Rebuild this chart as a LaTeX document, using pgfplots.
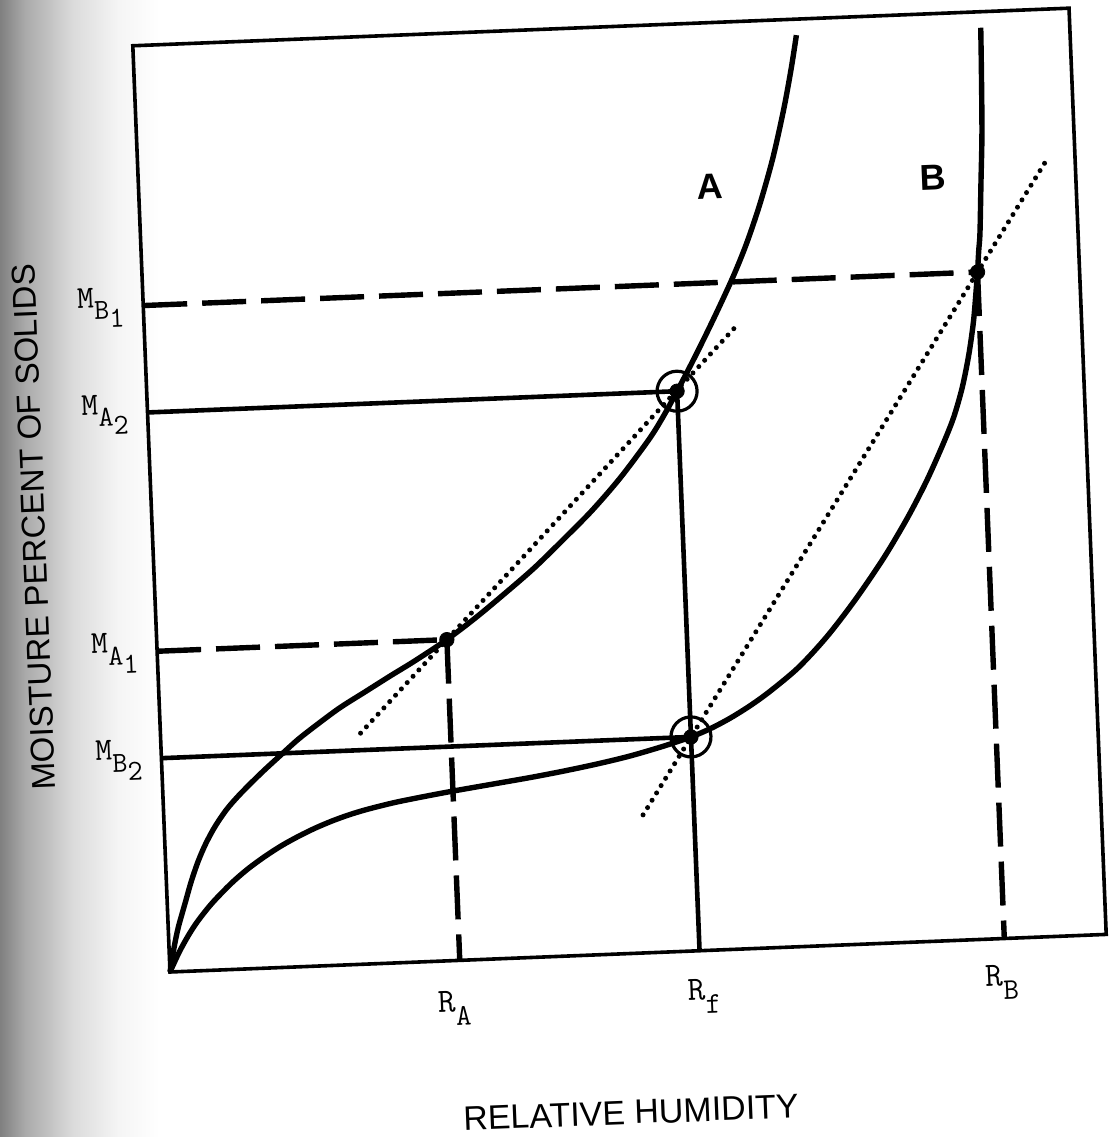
\documentclass[border=0pt]{standalone}
\usepackage{fontspec}
\setmainfont{Liberation Sans}
\usepackage{pgfplots}
\pgfplotsset{compat=1.18}

% typewriter face for the symbol labels, slightly emboldened
\newcommand\labfont{\ttfamily\addfontfeature{FakeBold=1.6}}
% M_{B_1}-style labels: letter, subscript, sub-subscript
\newcommand\msub[3]{{\labfont\fontsize{16bp}{16bp}\selectfont #1\raisebox{-6bp}{\fontsize{14.5bp}{14.5bp}\selectfont #2\raisebox{-4.5bp}{#3}}}}
% R_A-style labels
\newcommand\rsub[2]{{\labfont\fontsize{17bp}{17bp}\selectfont #1\raisebox{-7bp}{\fontsize{15bp}{15bp}\selectfont #2}}}

% grey page margin; the path box maps onto 25bp..75bp of the shading
\pgfdeclarehorizontalshading{margin}{100bp}{color(0bp)=(black!50); color(25bp)=(black!50); color(33bp)=(black!33); color(48bp)=(black!14); color(62bp)=(black!4); color(75bp)=(white); color(100bp)=(white)}

\begin{document}
\begin{tikzpicture}
\useasboundingbox (-85bp,-82.5bp) rectangle (470bp,486bp);
\shade[shading=margin] (-85bp,-82.5bp) rectangle (-5bp,486bp);
\begin{scope}[rotate=2.3, transform shape]
\begin{axis}[
  at={(0,0)}, anchor=south west,
  scale only axis, width=468.5bp, height=463.5bp,
  xmin=0, xmax=937, ymin=0, ymax=927,
  xtick=\empty, ytick=\empty,
  axis line style={line width=1.8bp},
  clip=false,
  curve/.style={line width=2.7bp, smooth, tension=0.5, line join=round},
  guide/.style={line width=2.3bp},
  dashedguide/.style={line width=2.7bp, dash pattern=on 22bp off 7.5bp},
  chord/.style={line width=2.5bp, line cap=round, dash pattern=on 0pt off 4.3bp},
]
% isotherm A
\addplot[curve] coordinates {
 (0,0) (5,24) (10,44) (17.8,68) (25,90) (32.8,110) (41,127) (50.8,143.5)
 (63,160) (75.2,173) (89,186) (103,198.5) (119,212) (137,227) (155,240)
 (180,257) (206,272) (232,287) (257,301) (290,321) (320,342) (350,365)
 (380,389) (410,416) (440,444) (470,476) (500,513) (515,535) (530,560)
 (550,595) (570,632) (590,671) (605,704) (620,743) (635,789) (648,838)
 (657,878) (663.5,911)};
% isotherm B
\addplot[curve] coordinates {
 (0,0) (10,19.5) (20,36) (30,50) (45,67.3) (65,86.3) (82,99.9) (100,112)
 (117,122) (134,130.5) (151,138) (168,144.4) (185,149.8) (201,154)
 (218,157.7) (235,161) (264,165.6) (292,169.7) (330,174.8) (368,179.9)
 (401,184.9) (435,190.7) (468,197.3) (502,205.8) (530,214) (550,221.6)
 (570,231.2) (590,242.6) (610,255.8) (640,278.9) (670,308.9) (700,344.9)
 (730,385.4) (755,424) (775,459) (792,493) (805,522) (815,552) (823,585)
 (829,618) (833,650) (835,667) (837,688) (839,706) (842,756) (845,806)
 (847,870) (848,911)};
% moisture / humidity guide lines
\addplot[dashedguide] coordinates {(0,667) (835,667)};
\addplot[dashedguide] coordinates {(835,667) (835,0)};
\addplot[dashedguide] coordinates {(0,321) (290,321)};
\addplot[dashedguide] coordinates {(290,321) (290,0)};
\addplot[guide] coordinates {(0,560) (530,560)};
\addplot[guide] coordinates {(530,560) (530,0)};
\addplot[guide] coordinates {(0,214) (530,214)};
% chords through the equilibrium points
\addplot[chord] coordinates {(200,231) (592,623)};
\addplot[chord] coordinates {(479,138) (907,774)};
% equilibrium points
\addplot[only marks, mark=*, mark size=3.6bp] coordinates {(290,321) (530,560) (530,214) (835,667)};
\addplot[only marks, mark=o, mark size=10bp, mark options={line width=1.6bp}] coordinates {(530,560) (530,214)};
% curve names
\node[font=\fontsize{18bp}{18bp}\selectfont\bfseries] at (axis cs:571,763) {A};
\node[font=\fontsize{18bp}{18bp}\selectfont\bfseries] at (axis cs:794,763) {B};
% moisture labels
\node[anchor=base west, inner sep=0pt] at (axis cs:-66,667) {\msub{M}{B}{1}};
\node[anchor=base west, inner sep=0pt] at (axis cs:-66,560) {\msub{M}{A}{2}};
\node[anchor=base west, inner sep=0pt] at (axis cs:-66,321) {\msub{M}{A}{1}};
\node[anchor=base west, inner sep=0pt] at (axis cs:-66,214) {\msub{M}{B}{2}};
% humidity labels
\node[anchor=north, inner sep=0pt] at (axis cs:283,-30) {\rsub{R}{A}};
\node[anchor=north, inner sep=0pt] at (axis cs:533,-28) {\rsub{R}{f}};
\node[anchor=north, inner sep=0pt] at (axis cs:831,-26) {\rsub{R}{B}};
% axis titles
\node[font=\fontsize{17bp}{17bp}\selectfont] at (axis cs:455,-159) {RELATIVE HUMIDITY};
\node[font=\fontsize{16.5bp}{16.5bp}\selectfont, rotate=90] at (axis cs:-118,450) {MOISTURE PERCENT OF SOLIDS};
\end{axis}
\end{scope}
\end{tikzpicture}
\end{document}
